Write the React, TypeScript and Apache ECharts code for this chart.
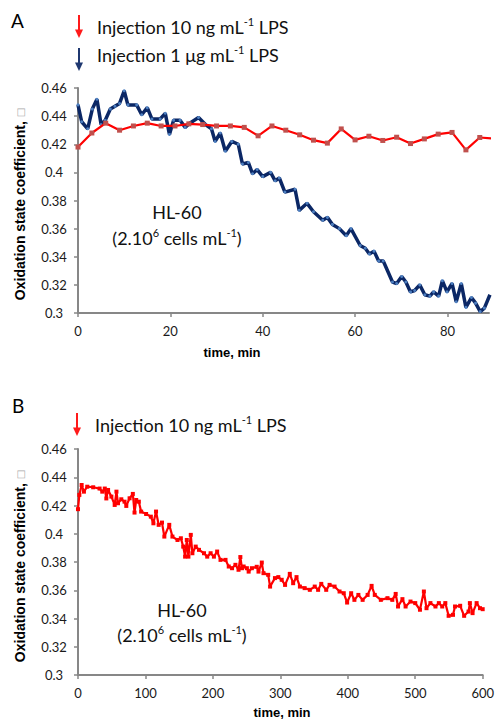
import React, { useEffect, useRef } from "react";
import * as echarts from "echarts";

// Panel A – injection 10 ng/mL LPS (red), time in min
const aRedTime = [0, 3, 6, 9, 12, 15, 18, 21, 24, 27, 30, 33, 36, 39, 42, 45, 48, 51, 54, 57, 60, 63, 66, 69, 72, 75, 78, 81, 84, 87, 89.6];
const aRedValue = [0.418, 0.428, 0.435, 0.430, 0.433, 0.435, 0.433, 0.433, 0.4345, 0.434, 0.433, 0.433, 0.432, 0.426, 0.433, 0.430, 0.4267, 0.4229, 0.4208, 0.4309, 0.4231, 0.4257, 0.4227, 0.425, 0.4205, 0.4238, 0.4272, 0.4284, 0.416, 0.4248, 0.4241];

// Panel A – injection 1 µg/mL LPS (navy)
const aBlueTime = [0, 0.8, 2.1, 3.1, 4.1, 5, 5.9, 7, 8, 9, 10, 10.8, 12.7, 13.8, 15, 16, 17.8, 18.9, 19.8, 20.7, 22.1, 23.2, 24.2, 26.1, 27.6, 28.9, 29.7, 30.8, 31.9, 33.3, 34.7, 35.6, 36.9, 37.8, 38.8, 40, 41.7, 42.7, 43.6, 44.8, 47, 47.9, 49.6, 51, 53, 54, 55.1, 56.6, 58.1, 59.1, 61.1, 62.2, 63.1, 64.1, 65.1, 66.1, 68.1, 69, 70.1, 71, 72, 72.9, 74, 75.1, 76.2, 77, 78.1, 78.9, 79.9, 81, 81.9, 83, 84, 85.2, 86.1, 87.1, 88, 89.2];
const aBlueValue = [0.448, 0.436, 0.431, 0.445, 0.452, 0.434, 0.437, 0.445, 0.447, 0.449, 0.458, 0.448, 0.448, 0.441, 0.446, 0.438, 0.438, 0.442, 0.427, 0.437, 0.437, 0.432, 0.435, 0.439, 0.434, 0.431, 0.422, 0.428, 0.415, 0.422, 0.42, 0.406, 0.407, 0.399, 0.402, 0.397, 0.4, 0.394, 0.396, 0.386, 0.388, 0.373, 0.378, 0.372, 0.366, 0.368, 0.363, 0.36, 0.355, 0.36, 0.348, 0.346, 0.342, 0.344, 0.337, 0.337, 0.322, 0.321, 0.326, 0.322, 0.315, 0.316, 0.32, 0.313, 0.312, 0.315, 0.312, 0.323, 0.315, 0.321, 0.308, 0.321, 0.304, 0.311, 0.307, 0.301, 0.3035, 0.313];

// Panel B – injection 10 ng/mL LPS (red), long run
const bRedTime = [0, 2, 5.4, 8.8, 13.7, 22.5, 32, 36, 39.7, 42, 44.6, 49.5, 54.4, 57, 59.3, 64.2, 69, 71.6, 76.5, 81.3, 83.8, 86.3, 90.2, 93.6, 101, 108, 111.8, 115.7, 119.6, 124.5, 128, 135.3, 140, 147.5, 152.5, 156, 158.8, 161.3, 163.7, 167.2, 169.6, 174.5, 179.4, 186.8, 191.6, 196.6, 201.5, 206.3, 211.3, 218.7, 223.5, 228.4, 233.4, 238, 240.7, 243.1, 245.6, 250.4, 253, 257.8, 265, 267.6, 272.5, 275, 282, 284.8, 292, 297, 302, 307, 314, 319, 324, 329, 336, 343.7, 351, 356, 360.7, 368, 373, 380.4, 387.8, 394, 399, 405, 409.8, 415.7, 422, 429.4, 435.3, 440, 449, 458.8, 466, 471, 474.5, 481, 485.7, 493, 500, 507, 512.8, 516.7, 522.5, 530, 535, 540, 544.6, 549.5, 556, 559, 566.6, 572.5, 579, 581, 585, 591, 596, 600];
const bRedValue = [0.4174, 0.4275, 0.4345, 0.4298, 0.4333, 0.4329, 0.432, 0.4298, 0.432, 0.425, 0.431, 0.4263, 0.4204, 0.4298, 0.4216, 0.4244, 0.4227, 0.4197, 0.4251, 0.4282, 0.415, 0.4239, 0.4227, 0.4157, 0.414, 0.4121, 0.4074, 0.4157, 0.4063, 0.4079, 0.398, 0.4063, 0.398, 0.3956, 0.3968, 0.3909, 0.3838, 0.3956, 0.3838, 0.3992, 0.3862, 0.3909, 0.3886, 0.3862, 0.3838, 0.3862, 0.3838, 0.3874, 0.3815, 0.3815, 0.3768, 0.3756, 0.378, 0.3745, 0.3835, 0.3756, 0.3768, 0.3756, 0.3732, 0.3756, 0.3766, 0.3732, 0.3796, 0.3721, 0.3709, 0.3626, 0.3686, 0.3693, 0.3674, 0.3638, 0.3716, 0.365, 0.3693, 0.3626, 0.3615, 0.3603, 0.3626, 0.3603, 0.3645, 0.3603, 0.3638, 0.3626, 0.3591, 0.3579, 0.3513, 0.3579, 0.3532, 0.3567, 0.3532, 0.3567, 0.3631, 0.3567, 0.3532, 0.3544, 0.3532, 0.3574, 0.3485, 0.3537, 0.3485, 0.352, 0.3509, 0.3462, 0.3591, 0.3473, 0.3509, 0.3485, 0.3509, 0.3485, 0.3509, 0.3419, 0.3426, 0.3485, 0.349, 0.3419, 0.3449, 0.3509, 0.3438, 0.3509, 0.3473, 0.3466];

// Tick positions
const aTimeTicks = [0, 20, 40, 60, 80];
const bTimeTicks = [0, 100, 200, 300, 400, 500, 600];
const yMin = 0.3;
const yMax = 0.46;
const yStep = 0.02;

const AXIS_GRAY = "#878787";
const LABEL_FONT = "Lato";
const TITLE_FONT = "Liberation Sans";

const zip = (xs: number[], ys: number[]) => xs.map((x, i) => [x, ys[i]]);

function valueXAxis(gridIndex: number, max: number, ticks: number[]) {
  return {
    type: "value",
    gridIndex,
    min: 0,
    max,
    axisLine: { show: true, onZero: false, lineStyle: { color: AXIS_GRAY, width: 2 } },
    axisTick: { show: true, length: 4, customValues: ticks, lineStyle: { color: AXIS_GRAY, width: 1.5 } },
    splitLine: { show: false },
    axisLabel: { color: "#1a1a1a", fontFamily: LABEL_FONT, fontSize: 13, margin: 11, customValues: ticks },
  };
}

function valueYAxis(gridIndex: number) {
  return {
    type: "value",
    gridIndex,
    min: yMin,
    max: yMax,
    interval: yStep,
    axisLine: { show: true, lineStyle: { color: AXIS_GRAY, width: 2 } },
    axisTick: { show: true, length: 4, lineStyle: { color: AXIS_GRAY, width: 1.5 } },
    splitLine: { show: false },
    axisLabel: {
      color: "#1a1a1a",
      fontFamily: LABEL_FONT,
      fontSize: 13,
      align: "center",
      margin: 24,
      formatter: (v: number) => String(+v.toFixed(2)),
    },
  };
}

const richMain = {
  n: { fontFamily: LABEL_FONT, fontSize: 18, lineHeight: 22, fill: "#111" },
  s: { fontFamily: LABEL_FONT, fontSize: 11, lineHeight: 12, fill: "#111", verticalAlign: "top" },
};

function arrow(x: number, y0: number, y1: number, color: string) {
  return {
    type: "group",
    children: [
      { type: "line", shape: { x1: x, y1: y0, x2: x, y2: y1 - 7 }, style: { stroke: color, lineWidth: 2 } },
      {
        type: "polygon",
        shape: { points: [[x - 4, y1 - 8.5], [x + 4, y1 - 8.5], [x, y1]] },
        style: { fill: color },
      },
    ],
  };
}

function label(x: number, y: number, text: string) {
  return {
    type: "text",
    x,
    y,
    style: { text, rich: richMain, align: "left", verticalAlign: "middle" },
  };
}

function centered(x: number, y: number, text: string) {
  return {
    type: "text",
    x,
    y,
    style: { text, rich: richMain, align: "center", verticalAlign: "middle" },
  };
}

function yTitle(x: number, y: number) {
  return {
    type: "text",
    x,
    y,
    rotation: Math.PI / 2,
    style: {
      text: "{b|Oxidation state coefficient, }{g|□}",
      rich: {
        b: { fontFamily: TITLE_FONT, fontSize: 14, fontWeight: "bold", fill: "#000" },
        g: { fontFamily: "DejaVu Sans", fontSize: 10, fill: "#aaaaaa" },
      },
      align: "center",
      verticalAlign: "middle",
    },
  };
}

function xTitle(x: number, y: number) {
  return {
    type: "text",
    x,
    y,
    style: {
      text: "time, min",
      fontFamily: TITLE_FONT,
      fontSize: 13,
      fontWeight: "bold",
      fill: "#000",
      align: "center",
      verticalAlign: "middle",
    },
  };
}

function panelLetter(x: number, y: number, t: string) {
  return {
    type: "text",
    x,
    y,
    style: { text: t, fontFamily: LABEL_FONT, fontSize: 19, fill: "#000", align: "left", verticalAlign: "middle" },
  };
}

export default function App() {
  const ref = useRef<HTMLDivElement>(null);

  useEffect(() => {
    if (!ref.current) return;
    const chart = echarts.init(ref.current, undefined, { renderer: "svg" });
    const option = {
      animation: false,
      grid: [
        { left: 78, top: 88, width: 411, height: 225 },
        { left: 78, top: 449, width: 408, height: 226 },
      ],
      xAxis: [valueXAxis(0, 89, aTimeTicks), valueXAxis(1, 600, bTimeTicks)],
      yAxis: [valueYAxis(0), valueYAxis(1)],
      series: [
        {
          type: "line",
          xAxisIndex: 0,
          yAxisIndex: 0,
          data: zip(aBlueTime, aBlueValue),
          symbol: "circle",
          symbolSize: 3,
          showAllSymbol: true,
          lineStyle: { color: "#0b2765", width: 3.5 },
          itemStyle: { color: "#4d7fc0", borderWidth: 0 },
          clip: true,
          z: 2,
        },
        {
          type: "line",
          xAxisIndex: 0,
          yAxisIndex: 0,
          data: zip(aRedTime, aRedValue),
          symbol: "rect",
          symbolSize: 5,
          showAllSymbol: true,
          lineStyle: { color: "#ff0000", width: 2.2 },
          itemStyle: { color: "#c0504d", borderWidth: 0 },
          clip: true,
          z: 3,
        },
        {
          type: "line",
          xAxisIndex: 1,
          yAxisIndex: 1,
          data: zip(bRedTime, bRedValue),
          symbol: "rect",
          symbolSize: 4,
          showAllSymbol: true,
          lineStyle: { color: "#ff0000", width: 2.2 },
          itemStyle: { color: "#ff0000", borderWidth: 0 },
          clip: true,
          z: 3,
        },
      ],
      graphic: [
        panelLetter(11, 20, "A"),
        arrow(79, 15, 38, "#ff1a1a"),
        label(97, 27, "{n|Injection 10 ng mL}{s|-1}{n| LPS}"),
        arrow(79, 48, 71, "#1f3870"),
        label(97, 55, "{n|Injection 1 μg mL}{s|-1}{n| LPS}"),
        centered(177, 212, "{n|HL-60}"),
        centered(177, 238, "{n|(2.10}{s|6}{n| cells mL}{s|-1}{n|)}"),
        yTitle(20, 204),
        xTitle(232, 352),

        panelLetter(12, 405, "B"),
        arrow(77, 413, 436, "#ff1a1a"),
        label(95, 425, "{n|Injection 10 ng mL}{s|-1}{n| LPS}"),
        centered(182, 610, "{n|HL-60}"),
        centered(182, 635, "{n|(2.10}{s|6}{n| cells mL}{s|-1}{n|)}"),
        yTitle(20, 566),
        xTitle(282, 712),
      ],
    };
    chart.setOption(option as any);
    return () => chart.dispose();
  }, []);

  return (
    <div
      ref={ref}
      style={{ position: "absolute", left: 0, top: 0, width: 497, height: 721, background: "#fff" }}
    />
  );
}
